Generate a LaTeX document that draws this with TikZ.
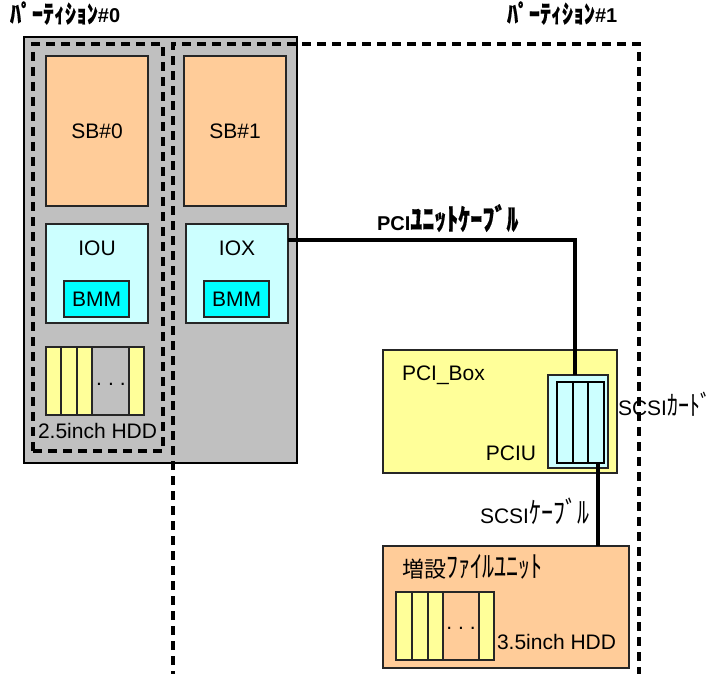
\documentclass[tikz,border=0pt]{standalone}
\usepackage{fontspec}
\usepackage{graphicx}
\setmainfont{Liberation Sans}
\newfontfamily\jp{Noto Sans CJK JP}
\newfontfamily\jpb[FakeBold=0.4]{Noto Sans CJK JP}
\usetikzlibrary{calc}
\definecolor{sbor}{HTML}{FFCC99}
\definecolor{lcyan}{HTML}{CCFFFF}
\definecolor{cyanb}{HTML}{00FFFF}
\definecolor{lyel}{HTML}{FFFF99}
\definecolor{gbox}{HTML}{C0C0C0}
\newcommand\fs{\fontsize{21}{25}\selectfont}
\newcommand\fj{\fontsize{20}{24}\selectfont}
\newcommand\fk{\fontsize{24}{28}\selectfont}
\newcommand\ft{\fontsize{22}{26}\selectfont}
\newcommand\kana[1]{\scalebox{1}[1.25]{#1}}
\newcommand\tkana[1]{\scalebox{1}[1.15]{#1}}
\begin{document}
\begin{tikzpicture}[x=1pt,y=-1pt,
  box/.style={draw=black!85, line width=1.3pt, inner sep=0pt, outer sep=0pt, anchor=north west, font=\fs},
  slotbox/.style={box, fill=lyel},
  part/.style={draw=black, line width=3.5pt, dash pattern=on 9pt off 6pt},
  cable/.style={draw=black, line width=3.5pt},
  lbl/.style={inner sep=0pt, outer sep=0pt, font=\fs}]
\useasboundingbox (0,0) rectangle (715,674);

% cabinet
\node[box, draw=black, line width=1.8pt, fill=gbox, minimum width=273pt, minimum height=426pt] (cab) at (24,37) {};

% system boards
\node[box, fill=sbor, minimum width=102pt, minimum height=150pt] (sb0) at (46,56) {SB\#0};
\node[box, fill=sbor, minimum width=102pt, minimum height=150pt] (sb1) at (184,56) {SB\#1};

% IO units
\node[box, fill=lcyan, minimum width=102pt, minimum height=99pt] (iou) at (46,224) {};
\node[box, fill=lcyan, minimum width=102pt, minimum height=99pt] (iox) at (186,224) {};
\node[box, fill=cyanb, minimum width=65pt, minimum height=36pt] (bmm0) at (64,281) {BMM};
\node[box, fill=cyanb, minimum width=65pt, minimum height=36pt] (bmm1) at (204,281) {BMM};
\node[lbl, anchor=base] (iout) at (97,255) {IOU};
\node[lbl, anchor=base] (ioxt) at (237,255) {IOX};

% 2.5inch HDD
\node[slotbox, minimum width=15pt, minimum height=68pt] (ha1) at (46,347) {};
\node[slotbox, minimum width=16pt, minimum height=68pt] (ha2) at (61,347) {};
\node[slotbox, minimum width=15pt, minimum height=68pt] (ha3) at (77,347) {};
\node[box, fill=gbox, minimum width=37pt, minimum height=68pt] (ha4) at (92,347) {};
\node[slotbox, minimum width=15pt, minimum height=68pt] (ha5) at (129,347) {};
\node[lbl, anchor=base] (hadots) at (111,385) {.\hspace{6pt}.\hspace{6pt}.};

% PCI box
\node[box, fill=lyel, minimum width=234pt, minimum height=123pt] (pcibox) at (383,350) {};
\node[box, fill=lcyan, minimum width=60pt, minimum height=93pt] (pciu) at (548,375) {};
\node[box, draw=black, line width=1.6pt, fill=lcyan, minimum width=16pt, minimum height=81pt] (sl1) at (557,382) {};
\node[box, draw=black, line width=1.6pt, fill=lcyan, minimum width=15pt, minimum height=81pt] (sl2) at (573,382) {};
\node[box, draw=black, line width=1.6pt, fill=lcyan, minimum width=16pt, minimum height=81pt] (sl3) at (588,382) {};

% expansion file unit
\node[box, fill=sbor, minimum width=246pt, minimum height=122pt] (exp) at (383,546) {};
\node[slotbox, minimum width=16pt, minimum height=68pt] (hb1) at (396,592) {};
\node[slotbox, minimum width=16pt, minimum height=68pt] (hb2) at (412,592) {};
\node[slotbox, minimum width=15pt, minimum height=68pt] (hb3) at (428,592) {};
\node[box, fill=sbor, minimum width=36pt, minimum height=68pt] (hb4) at (443,592) {};
\node[slotbox, minimum width=15pt, minimum height=68pt] (hb5) at (479,592) {};
\node[lbl, anchor=base] (hbdots) at (461,629) {.\hspace{6pt}.\hspace{6pt}.};

% cables
\draw[cable] ([yshift=-16pt]iox.north east) -| ([xshift=-3pt]pciu.north);
\draw[cable] ([xshift=2pt]sl3.south) -- ([xshift=2pt]sl3.south |- exp.north);

% partitions
\node[part, inner sep=0pt, outer sep=0pt, anchor=north west, minimum width=130pt, minimum height=407pt] (p0) at (33,44) {};
\coordinate (p1a) at (173,680);
\coordinate (p1b) at (173,44);
\coordinate (p1c) at (639,44);
\coordinate (p1d) at (639,680);
\draw[part] (p1a) -- (p1b) -- (p1c) -- (p1d);

% labels
\node[lbl, anchor=base west, font=\fj\bfseries] (t0) at (10,23) {\tkana{\ft\jpb ﾊﾟｰﾃｨｼｮﾝ}\#0};
\node[lbl, anchor=base west, font=\fj\bfseries] (t1) at (507,23) {\tkana{\ft\jpb ﾊﾟｰﾃｨｼｮﾝ}\#1};
\node[lbl, anchor=base west, font=\fj\bfseries] (pcil) at (377,230) {PCI\kana{\fk\jpb ﾕﾆｯﾄｹｰﾌﾞﾙ}};
\node[lbl, anchor=base west] (pcibl) at (402,380) {PCI\_Box};
\node[lbl, anchor=base east] (pciul) at (536,460) {PCIU};
\node[lbl, anchor=base west] (scsicl) at (618,415) {SCSI\kana{\fontsize{22}{26}\selectfont\jp ｶｰﾄﾞ}};
\node[lbl, anchor=base west] (scsikl) at (480,523) {SCSI\kana{\fk\jp ｹｰﾌﾞﾙ}};
\node[lbl, anchor=base west] (expl) at (402,577) {{\fontsize{22}{26}\selectfont\jp 増設}\kana{\fk\jp ﾌｧｲﾙﾕﾆｯﾄ}};
\node[lbl, anchor=base west] (h35) at (497,649) {3.5inch HDD};
\node[lbl, anchor=base west] (h25) at (38,438) {2.5inch HDD};
\end{tikzpicture}
\end{document}
